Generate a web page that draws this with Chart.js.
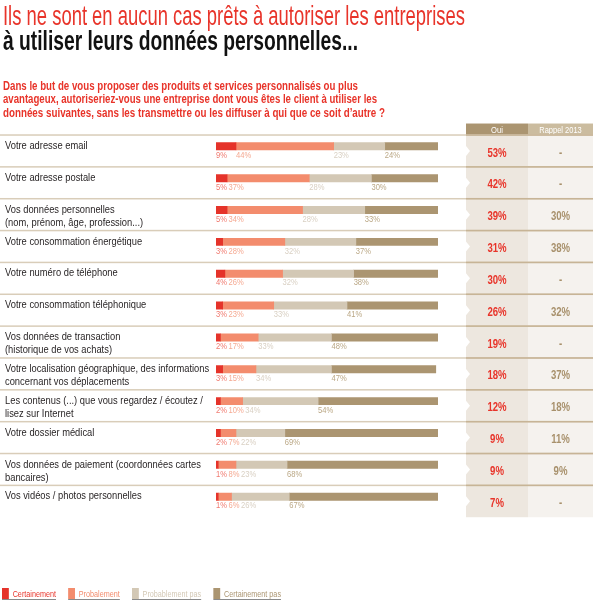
<!DOCTYPE html>
<html lang="fr">
<head>
<meta charset="utf-8">
<script src="https://cdn.jsdelivr.net/npm/chart.js@4.4.1/dist/chart.umd.min.js"></script>
<style>
  body { margin: 0; background: #fff; }
  #page { position: relative; width: 595px; height: 602px; overflow: hidden;
          font-family: "Liberation Sans", Arial, sans-serif; }
  #wrap { position: absolute; left: 0; top: 0; width: 595px; height: 602px; }
  .fit { position: absolute; left: 3px; white-space: nowrap; transform-origin: 0 0; }
  .t1 { top: 2px; font-size: 28px; line-height: 28px; color: #e8342a; }
  .t2 { top: 27px; font-size: 28px; line-height: 28px; color: #111; font-weight: bold; }
  .sub { font-size: 12.5px; line-height: 13.3px; color: #e8342a; font-weight: bold; }
  #legend { top: 587px; left: 2px; display: flex; font-size: 9.5px; }
  .item { display: flex; align-items: flex-end; border-bottom: 1px solid #8a8a8a; height: 12px; }
  .sw { width: 9px; height: 11px; margin-right: 5px; }
</style>
</head>
<body>
<div id="page">
  <div id="wrap"><canvas id="chart"></canvas></div>
  <div class="fit t1" data-w="462">Ils ne sont en aucun cas prêts à autoriser les entreprises</div>
  <div class="fit t2" data-w="355">à utiliser leurs données personnelles...</div>
  <div class="fit sub" style="top:80px" data-w="355">Dans le but de vous proposer des produits et services personnalisés ou plus</div>
  <div class="fit sub" style="top:93.3px" data-w="374">avantageux, autoriseriez-vous une entreprise dont vous êtes le client à utiliser les</div>
  <div class="fit sub" style="top:106.6px" data-w="382">données suivantes, sans les transmettre ou les diffuser à qui que ce soit d’autre ?</div>
  <div id="legend" class="fit" data-w="279"></div>
</div>
<script>
const rowLabels = [
  ["Votre adresse email"],
  ["Votre adresse postale"],
  ["Vos données personnelles", "(nom, prénom, âge, profession...)"],
  ["Votre consommation énergétique"],
  ["Votre numéro de téléphone"],
  ["Votre consommation téléphonique"],
  ["Vos données de transaction", "(historique de vos achats)"],
  ["Votre localisation géographique, des informations", "concernant vos déplacements"],
  ["Les contenus (...) que vous regardez / écoutez /", "lisez sur Internet"],
  ["Votre dossier médical"],
  ["Vos données de paiement (coordonnées cartes", "bancaires)"],
  ["Vos vidéos / photos personnelles"]
];
const certainement    = [9, 5, 5, 3, 4, 3, 2, 3, 2, 2, 1, 1];
const probablement    = [44, 37, 34, 28, 26, 23, 17, 15, 10, 7, 8, 6];
const probablementPas = [23, 28, 28, 32, 32, 33, 33, 34, 34, 22, 23, 26];
const certainementPas = [24, 30, 33, 37, 38, 41, 48, 47, 54, 69, 68, 67];
const oui     = [53, 42, 39, 31, 30, 26, 19, 18, 12, 9, 9, 7];
const rappel  = [null, null, 30, 38, null, 32, null, 37, 18, 11, 9, null];
const seriesNames = ["Certainement", "Probalement", "Probablement pas", "Certainement pas"];
const headers = ["Oui", "Rappel 2013"];

const BAR_COLORS = ["#e5332a", "#f38c6d", "#d3c8b5", "#ab9571"];
const LABEL_COLORS = ["#f07a70", "#f5aa93", "#d9d0c3", "#bba886"];
const FONT = '"Liberation Sans", Arial, sans-serif';

const legend = document.getElementById("legend");
seriesNames.forEach((name, i) => {
  const item = document.createElement("div");
  item.className = "item";
  item.style.marginRight = ["16px", "16px", "16px", "0"][i];
  item.innerHTML = `<span class="sw" style="background:${BAR_COLORS[i]}"></span><span style="color:${i === 0 ? "#e8342a" : BAR_COLORS[i]}">${name}</span>`;
  legend.appendChild(item);
});

// ajuste les lignes de texte à la largeur de l'original (police condensée)
document.querySelectorAll(".fit").forEach((el) => {
  const w = el.getBoundingClientRect().width;
  el.style.transform = `scaleX(${Number(el.dataset.w) / w})`;
});

function drawText(ctx, txt, x, y, sx, align = "left") {
  ctx.save();
  ctx.translate(x, y);
  ctx.scale(sx, 1);
  ctx.textAlign = align;
  ctx.fillText(txt, 0, 0);
  ctx.restore();
  return ctx.measureText(txt).width * sx;
}

const tablePlugin = {
  id: "tablePlugin",
  beforeDatasetsDraw(chart) {
    const { ctx, scales } = chart;
    const y = scales.y;
    const step = y.getPixelForValue(1) - y.getPixelForValue(0);
    const top0 = y.getPixelForValue(0) - 11.3;
    const bottom = top0 + step * rowLabels.length;
    ctx.save();
    // colonnes
    ctx.fillStyle = "#ede7df";
    ctx.fillRect(466, top0, 62, bottom - top0);
    ctx.fillStyle = "#f5f2ee";
    ctx.fillRect(528, top0, 65, bottom - top0);
    // en-têtes
    ctx.fillStyle = "#ab9571";
    ctx.fillRect(466, top0 - 11.5, 62, 11.5);
    ctx.fillStyle = "#cbbc9f";
    ctx.fillRect(528, top0 - 11.5, 65, 11.5);
    ctx.fillStyle = "#fff";
    ctx.font = `9.5px ${FONT}`;
    ctx.textBaseline = "alphabetic";
    drawText(ctx, headers[0], 497, top0 - 2.5, 0.8, "center");
    drawText(ctx, headers[1], 560.5, top0 - 2.5, 0.79, "center");
    // séparateurs
    rowLabels.forEach((_, i) => {
      const t = top0 + i * step;
      ctx.fillStyle = "#d9cdb9";
      ctx.fillRect(0, t - 0.75, 593, 1.5);
      ctx.fillStyle = "#c7b496";
      ctx.fillRect(466, t - 0.75, 127, 1.5);
      // encoche blanche
      const c = t + step / 2;
      ctx.fillStyle = "#fff";
      ctx.beginPath();
      ctx.moveTo(466, c - 5);
      ctx.lineTo(470, c);
      ctx.lineTo(466, c + 5);
      ctx.closePath();
      ctx.fill();
    });
    ctx.restore();
  },
  afterDatasetsDraw(chart) {
    const { ctx, scales } = chart;
    const x = scales.x;
    const y = scales.y;
    ctx.save();
    ctx.textBaseline = "alphabetic";
    rowLabels.forEach((lines, i) => {
      const t = y.getPixelForValue(i) - 11.3;
      // libellés
      ctx.fillStyle = "#231f20";
      ctx.font = `10.5px ${FONT}`;
      lines.forEach((line, k) => drawText(ctx, line, 5, t + 14 + k * 13.3, 0.89));
      // pourcentages sous la barre
      ctx.font = `9.5px ${FONT}`;
      let cum = 0;
      let prevEnd = -Infinity;
      chart.data.datasets.forEach((ds, d) => {
        const v = ds.data[i];
        let px = x.getPixelForValue(cum);
        if (px < prevEnd + 1.5) px = prevEnd + 1.5;
        ctx.fillStyle = LABEL_COLORS[d];
        prevEnd = px + drawText(ctx, `${v}%`, px, t + 23, 0.8);
        cum += v;
      });
      // colonnes Oui / Rappel
      ctx.font = `bold 12px ${FONT}`;
      ctx.fillStyle = "#e8342a";
      drawText(ctx, `${oui[i]}%`, 497, t + 21.5, 0.8, "center");
      ctx.fillStyle = "#a8916c";
      drawText(ctx, rappel[i] == null ? "-" : `${rappel[i]}%`, 560.5, t + 21.5, 0.8, "center");
    });
    ctx.restore();
  }
};

const seriesData = [certainement, probablement, probablementPas, certainementPas];

new Chart(document.getElementById("chart"), {
  type: "bar",
  data: {
    labels: rowLabels.map((l) => l.join(" ")),
    datasets: seriesData.map((data, d) => ({
      label: seriesNames[d],
      data,
      backgroundColor: BAR_COLORS[d],
      borderWidth: 0,
      barThickness: 7.3
    }))
  },
  options: {
    indexAxis: "y",
    responsive: true,
    maintainAspectRatio: false,
    animation: false,
    layout: { padding: { left: 216, right: 157, top: 130.4, bottom: 89.4 } },
    plugins: { legend: { display: false }, tooltip: { enabled: false } },
    scales: {
      x: { stacked: true, min: 0, max: 100, display: false },
      y: { stacked: true, display: false }
    }
  },
  plugins: [tablePlugin]
});
</script>
</body>
</html>
